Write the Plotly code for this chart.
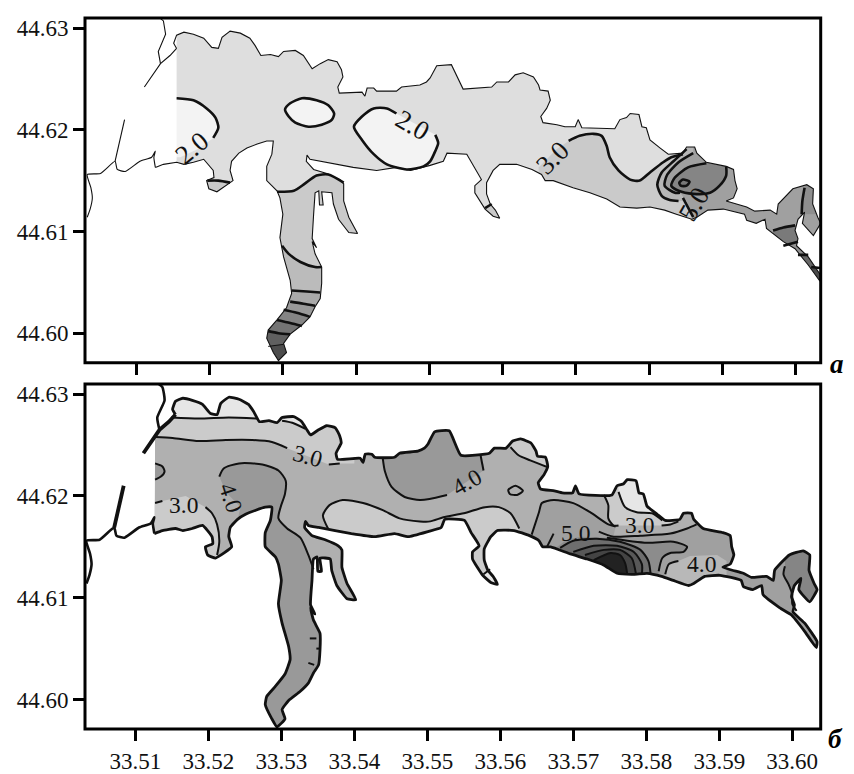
import plotly.graph_objects as go

# ---------- shoreline of the bay (lon, lat), shared by both panels ----------
WATER = [(33.5155,44.6280),(33.5151,44.6285),(33.5155,44.6293),(33.5165,44.6296),(33.5178,44.6294),(33.5192,44.6290),
(33.5203,44.6281),(33.5212,44.6280),(33.5217,44.6291),(33.5228,44.6297),(33.5242,44.6295),(33.5255,44.6290),(33.5262,44.6283),
(33.5270,44.6273),(33.5283,44.6274),(33.5294,44.6272),(33.5301,44.6277),(33.5317,44.6278),(33.5328,44.6273),(33.5335,44.6265),
(33.5340,44.6260),(33.5351,44.6265),(33.5362,44.6269),(33.5374,44.6267),(33.5380,44.6259),(33.5382,44.6252),(33.5375,44.6242),
(33.5377,44.6236),(33.5408,44.6237),(33.5412,44.6233),(33.5415,44.6241),(33.5424,44.6241),(33.5428,44.6238),(33.5455,44.6238),
(33.5462,44.6242),(33.5487,44.6244),(33.5496,44.6247),(33.5501,44.6251),(33.5510,44.6263),(33.5530,44.6264),(33.5546,44.6240),
(33.5585,44.6242),(33.5592,44.6247),(33.5608,44.6247),(33.5617,44.6254),(33.5628,44.6256),(33.5642,44.6252),(33.5649,44.6244),
(33.5651,44.6239),(33.5662,44.6238),(33.5665,44.6229),(33.5660,44.6221),(33.5652,44.6213),(33.5655,44.6207),(33.5674,44.6205),
(33.5685,44.6203),(33.5699,44.6203),(33.5703,44.6210),(33.5708,44.6202),(33.5753,44.6201),(33.5760,44.6210),(33.5769,44.6212),
(33.5774,44.6216),(33.5786,44.6215),(33.5790,44.6203),(33.5796,44.6202),(33.5801,44.6190),(33.5815,44.6182),(33.5826,44.6176),
(33.5846,44.6177),(33.5851,44.6183),(33.5862,44.6183),(33.5865,44.6177),(33.5878,44.6168),(33.5905,44.6164),(33.5915,44.6161),
(33.5917,44.6150),(33.5920,44.6142),(33.5915,44.6133),(33.5905,44.6130),(33.5933,44.6124),(33.5944,44.6120),(33.5965,44.6121),
(33.5974,44.6117),(33.5976,44.6127),(33.5996,44.6142),(33.6015,44.6146),(33.6024,44.6142),(33.6023,44.6127),(33.6030,44.6114),
(33.6034,44.6108),(33.6024,44.6096),(33.6009,44.6108),(33.6012,44.6119),(33.6003,44.6112),(33.5999,44.6101),(33.6003,44.6093),
(33.6001,44.6086),(33.6017,44.6075),(33.6034,44.6057),(33.6033,44.6051),(33.6017,44.6067),(33.5999,44.6083),(33.5983,44.6090),
(33.5960,44.6103),(33.5958,44.6112),(33.5946,44.6108),(33.5933,44.6111),(33.5930,44.6117),(33.5901,44.6122),(33.5880,44.6121),
(33.5865,44.6114),(33.5858,44.6112),(33.5837,44.6117),(33.5821,44.6121),(33.5801,44.6124),(33.5783,44.6123),(33.5760,44.6124),
(33.5742,44.6132),(33.5719,44.6138),(33.5696,44.6143),(33.5669,44.6150),(33.5658,44.6150),(33.5653,44.6156),(33.5640,44.6161),
(33.5619,44.6166),(33.5596,44.6166),(33.5587,44.6160),(33.5578,44.6148),(33.5578,44.6137),(33.5583,44.6127),(33.5590,44.6121),
(33.5596,44.6113),(33.5587,44.6115),(33.5576,44.6122),(33.5562,44.6138),(33.5562,44.6145),(33.5571,44.6151),(33.5560,44.6164),
(33.5551,44.6176),(33.5524,44.6177),(33.5519,44.6169),(33.5501,44.6165),(33.5474,44.6160),(33.5455,44.6163),(33.5428,44.6160),
(33.5396,44.6163),(33.5351,44.6169),(33.5337,44.6171),(33.5333,44.6175),(33.5332,44.6169),(33.5342,44.6161),(33.5360,44.6157),
(33.5378,44.6151),(33.5383,44.6147),(33.5383,44.6130),(33.5390,44.6114),(33.5402,44.6098),(33.5390,44.6099),(33.5376,44.6112),
(33.5369,44.6127),(33.5367,44.6138),(33.5353,44.6139),(33.5355,44.6126),(33.5350,44.6126),(33.5349,44.6140),(33.5344,44.6138),
(33.5342,44.6117),(33.5340,44.6093),(33.5346,44.6084),(33.5340,44.6090),(33.5344,44.6078),(33.5353,44.6065),(33.5353,44.6049),
(33.5351,44.6034),(33.5344,44.6026),(33.5337,44.6016),(33.5326,44.6008),(33.5310,44.5999),(33.5301,44.5990),(33.5305,44.5981),
(33.5294,44.5973),(33.5287,44.5981),(33.5278,44.5995),(33.5280,44.6003),(33.5292,44.6013),(33.5305,44.6025),(33.5312,44.6039),
(33.5310,44.6052),(33.5301,44.6075),(33.5296,44.6094),(33.5300,44.6117),(33.5296,44.6133),(33.5292,44.6140),(33.5278,44.6150),
(33.5278,44.6164),(33.5285,44.6176),(33.5287,44.6189),(33.5278,44.6189),(33.5265,44.6186),(33.5251,44.6182),(33.5240,44.6177),
(33.5230,44.6169),(33.5228,44.6160),(33.5232,44.6150),(33.5210,44.6139),(33.5199,44.6142),(33.5196,44.6150),(33.5206,44.6153),
(33.5205,44.6160),(33.5192,44.6171),(33.5178,44.6168),(33.5165,44.6166),(33.5155,44.6168),(33.5137,44.6166),(33.5126,44.6163),
(33.5127,44.6258),(33.5133,44.6265),(33.5146,44.6273)]
COAST = WATER[:WATER.index((33.5126,44.6163)) + 1]

WEST_SPUR_1 = [(33.5155,44.6280),(33.5146,44.6273),(33.5133,44.6265),(33.5111,44.6242)]
WEST_SHORE_1 = [(33.5132,44.6310),(33.5137,44.6307),(33.5140,44.6294),(33.5130,44.6277),(33.5133,44.6265)]
WEST_SHORE_2 = [(33.5126,44.6163),(33.5124,44.6173),(33.5126,44.6179),(33.5121,44.6173),(33.5105,44.6169),(33.5085,44.6159),
(33.5074,44.6161),(33.5071,44.6169),(33.5051,44.6157),(33.5033,44.6156),(33.5038,44.6143),(33.5040,44.6133),(33.5037,44.6122),(33.5033,44.6114)]
WEST_SPUR_2 = [(33.5071,44.6169),(33.5084,44.6210)]

# ---------- panel a: isolines ----------
A_B1 = [(33.5155,44.6231),(33.5178,44.6229),(33.5196,44.6221),(33.5208,44.6212),(33.5212,44.6202),(33.5205,44.6192)]
A_B1_END = [(33.5187,44.6182),(33.5160,44.6173),(33.5142,44.6173),(33.5142,44.6231)]
A_B2 = [(33.5303,44.6220),(33.5310,44.6226),(33.5326,44.6231),(33.5346,44.6229),(33.5362,44.6224),(33.5370,44.6216),(33.5367,44.6210),
(33.5353,44.6205),(33.5335,44.6203),(33.5317,44.6207),(33.5308,44.6213),(33.5303,44.6220)]
A_B3 = [(33.5455,44.6216),(33.5442,44.6221),(33.5424,44.6221),(33.5408,44.6213),(33.5397,44.6203),(33.5408,44.6190),(33.5424,44.6176),
(33.5442,44.6166),(33.5469,44.6161),(33.5492,44.6164),(33.5501,44.6169),(33.5508,44.6179),(33.5512,44.6187),(33.5508,44.6195)]
A_S1 = [(33.5292,44.6139),(33.5315,44.6140),(33.5330,44.6147),(33.5346,44.6155),(33.5362,44.6156),(33.5383,44.6148)]
A_S1_END = [(33.5420,44.6148),(33.5420,44.5960),(33.5240,44.5960),(33.5240,44.6139)]
A_S2 = [(33.5299,44.6086),(33.5308,44.6078),(33.5324,44.6070),(33.5344,44.6065),(33.5353,44.6065)]
A_S3 = [(33.5312,44.6042),(33.5333,44.6041),(33.5351,44.6040)]
A_S4 = [(33.5310,44.6031),(33.5328,44.6029),(33.5344,44.6027)]
A_S5 = [(33.5301,44.6023),(33.5319,44.6020),(33.5337,44.6016)]
A_S6 = [(33.5292,44.6013),(33.5310,44.6010),(33.5326,44.6007)]
A_S7 = [(33.5280,44.6002),(33.5294,44.6000),(33.5310,44.5999)]
A_S8 = [(33.5280,44.5987),(33.5301,44.5989)]
A_W = [(33.5197,44.6150),(33.5212,44.6150),(33.5228,44.6148)]
A_W_END = [(33.5240,44.6148),(33.5240,44.6130),(33.5190,44.6130),(33.5190,44.6150)]
A_C = [(33.5576,44.6123),(33.5585,44.6127)]
A_C_END = [(33.5600,44.6127),(33.5600,44.6105),(33.5576,44.6105)]
A_E1 = [(33.5690,44.6189),(33.5705,44.6194),(33.5724,44.6196),(33.5735,44.6194),(33.5742,44.6184),(33.5746,44.6173),(33.5758,44.6160),
(33.5774,44.6151),(33.5787,44.6150),(33.5801,44.6158),(33.5819,44.6168),(33.5830,44.6173),(33.5846,44.6176)]
A_E1_START = [(33.5649,44.6163),(33.5674,44.6181)]
A_E1_END = [(33.5860,44.6190),(33.6040,44.6190),(33.6040,44.6040),(33.5649,44.6040)]
A_E2 = [(33.5851,44.6181),(33.5833,44.6169),(33.5817,44.6158),(33.5811,44.6146),(33.5817,44.6135),(33.5828,44.6131),(33.5840,44.6130)]
A_E3 = [(33.5860,44.6177),(33.5840,44.6168),(33.5824,44.6155),(33.5821,44.6145),(33.5835,44.6138),(33.5842,44.6138)]
A_E_END = [(33.5851,44.6130),(33.5860,44.6114),(33.5860,44.6030),(33.6040,44.6030),(33.6040,44.6200),(33.5860,44.6200)]
A_E4 = [(33.5878,44.6167),(33.5853,44.6163),(33.5835,44.6153),(33.5830,44.6145),(33.5840,44.6140),(33.5860,44.6137),(33.5883,44.6138),
(33.5896,44.6145),(33.5905,44.6155),(33.5905,44.6164)]
A_E4_END = [(33.5905,44.6180),(33.5878,44.6180)]
A_E5 = [(33.5841,44.6148),(33.5846,44.6151),(33.5855,44.6149),(33.5851,44.6145),(33.5843,44.6145),(33.5841,44.6148)]
A_D = [(33.5846,44.6133),(33.5860,44.6114)]
A_F1 = [(33.6012,44.6143),(33.6009,44.6130),(33.6008,44.6117)]
A_F1_END = [(33.6040,44.6117),(33.6040,44.6150),(33.6012,44.6150)]
A_F2 = [(33.5969,44.6101),(33.5983,44.6104),(33.5999,44.6106)]
A_F2_END = [(33.6005,44.6106),(33.6005,44.6090),(33.6040,44.6090),(33.6040,44.6030),(33.5969,44.6030)]
A_F3 = [(33.5983,44.6086),(33.6003,44.6090)]
A_F3_END = [(33.6040,44.6090),(33.6040,44.6030),(33.5983,44.6030)]
A_F4 = [(33.6003,44.6077),(33.6017,44.6077)]
A_F4_END = [(33.6040,44.6077),(33.6040,44.6030),(33.6003,44.6030)]
A_F5 = [(33.6021,44.6065),(33.6033,44.6064)]
A_F5_END = [(33.6040,44.6064),(33.6040,44.6030),(33.6021,44.6030)]

# ---------- panel b: isolines ----------
B_T1 = [(33.5149,44.6277),(33.5187,44.6276),(33.5228,44.6277),(33.5267,44.6276)]
B_T1_END = [(33.5267,44.6320),(33.5149,44.6320)]
B_T1B = [(33.5301,44.6274),(33.5315,44.6272),(33.5333,44.6266)]
B_T1B_END = [(33.5333,44.6290),(33.5301,44.6290)]
B_T2 = [(33.5127,44.6258),(33.5151,44.6257),(33.5187,44.6254),(33.5224,44.6255),(33.5260,44.6255),(33.5287,44.6253),(33.5308,44.6247)]
B_T2B = [(33.5365,44.6231),(33.5380,44.6232)]
B_T2_END = [(33.5400,44.6232),(33.5400,44.6320),(33.5127,44.6320)]
B_M1A = [(33.5127,44.6193),(33.5137,44.6195)]
B_M1B = [(33.5196,44.6189),(33.5205,44.6183),(33.5212,44.6172),(33.5215,44.6155),(33.5212,44.6142)]
B_M1_MID = [(33.5169,44.6200)]
B_M1_END = [(33.5212,44.6130),(33.5120,44.6130),(33.5120,44.6193)]
B_M2 = [(33.5127,44.6232),(33.5137,44.6229),(33.5140,44.6224),(33.5135,44.6219),(33.5127,44.6216)]
B_D1 = [(33.5215,44.6219),(33.5221,44.6227),(33.5242,44.6232),(33.5274,44.6231),(33.5296,44.6225),(33.5306,44.6215),(33.5305,44.6202),
(33.5299,44.6189),(33.5296,44.6178),(33.5308,44.6168),(33.5326,44.6159),(33.5337,44.6142),(33.5344,44.6128)]
B_D1_END = [(33.5342,44.6097),(33.5369,44.6087),(33.5369,44.5963),(33.5269,44.5963),(33.5269,44.6172),(33.5240,44.6176),(33.5244,44.6189),(33.5224,44.6204)]
B_D2A = [(33.5439,44.6237),(33.5442,44.6224),(33.5451,44.6209),(33.5469,44.6199),(33.5490,44.6196),(33.5503,44.6197),(33.5527,44.6201)]
B_D2B = [(33.5577,44.6225),(33.5573,44.6240)]
B_D2_END = [(33.5573,44.6270),(33.5439,44.6270)]
B_OVAL = [(33.5611,44.6206),(33.5621,44.6210),(33.5631,44.6205),(33.5623,44.6201),(33.5613,44.6202),(33.5611,44.6206)]
B_LOBE = [(33.5614,44.6248),(33.5625,44.6240),(33.5641,44.6235),(33.5666,44.6228)]
B_LOBE_END = [(33.5680,44.6228),(33.5680,44.6290),(33.5614,44.6290)]
B_M4 = [(33.5364,44.6168),(33.5357,44.6181),(33.5366,44.6191),(33.5384,44.6196),(33.5412,44.6193),(33.5439,44.6186),(33.5462,44.6178),
(33.5490,44.6175),(33.5504,44.6175),(33.5522,44.6179),(33.5550,44.6183),(33.5579,44.6189),(33.5598,44.6189),(33.5614,44.6183),(33.5626,44.6168)]
B_M4_END = [(33.5626,44.6100),(33.5420,44.6100),(33.5420,44.6150),(33.5364,44.6162)]
B_TIP = [(33.5577,44.6123),(33.5586,44.6128)]
B_TIP_END = [(33.5600,44.6128),(33.5600,44.6105),(33.5577,44.6105)]
B_R1 = [(33.5643,44.6162),(33.5653,44.6184),(33.5657,44.6193),(33.5673,44.6196),(33.5700,44.6193),(33.5723,44.6184),(33.5748,44.6172),(33.5758,44.6170)]
B_Z3 = [(33.5735,44.6165),(33.5755,44.6160),(33.5792,44.6161),(33.5833,44.6163),(33.5856,44.6168),(33.5869,44.6172)]
B_R1_END = [(33.5888,44.6175),(33.6045,44.6175),(33.6045,44.6030),(33.5643,44.6030)]
B_Z1 = [(33.5742,44.6201),(33.5748,44.6191),(33.5748,44.6178),(33.5755,44.6171),(33.5762,44.6171)]
B_Z1B = [(33.5821,44.6171),(33.5833,44.6172),(33.5844,44.6175)]
B_Z1_END = [(33.5850,44.6180),(33.5800,44.6215),(33.5742,44.6215)]
B_Z2 = [(33.5762,44.6204),(33.5771,44.6189),(33.5787,44.6184),(33.5808,44.6183),(33.5822,44.6176)]
B_Z2_END = [(33.5822,44.6215),(33.5762,44.6215)]
B_C1_EDGE = [(33.5678,44.6150),(33.5691,44.6157),(33.5710,44.6160)]
B_C1 = [(33.5746,44.6159),(33.5801,44.6154),(33.5837,44.6155),(33.5856,44.6150),(33.5851,44.6145),(33.5833,44.6144),(33.5822,44.6139),(33.5817,44.6126)]
B_C1_END = [(33.5817,44.6100),(33.5678,44.6100)]
B_C2 = [(33.5682,44.6149),(33.5700,44.6156),(33.5732,44.6158),(33.5764,44.6155),(33.5792,44.6147),(33.5803,44.6136),(33.5806,44.6123)]
B_C2_END = [(33.5806,44.6100),(33.5682,44.6100)]
B_C3 = [(33.5700,44.6145),(33.5728,44.6151),(33.5760,44.6151),(33.5783,44.6145),(33.5794,44.6133),(33.5794,44.6123)]
B_C3_END = [(33.5794,44.6100),(33.5700,44.6100)]
B_C4 = [(33.5716,44.6142),(33.5742,44.6147),(33.5764,44.6147),(33.5780,44.6139),(33.5786,44.6123)]
B_C4_END = [(33.5786,44.6100),(33.5716,44.6100)]
B_C5 = [(33.5728,44.6137),(33.5751,44.6144),(33.5764,44.6142),(33.5771,44.6134),(33.5774,44.6123)]
B_C5_END = [(33.5774,44.6100),(33.5728,44.6100)]
B_L5 = [(33.5664,44.6150),(33.5673,44.6163)]
B_Z4 = [(33.5826,44.6123),(33.5831,44.6133),(33.5844,44.6136)]
B_Z4_END = [(33.5860,44.6141),(33.5897,44.6142),(33.5910,44.6136),(33.5910,44.6100),(33.5826,44.6100)]
B_F1 = [(33.5990,44.6131),(33.5988,44.6123),(33.5995,44.6113),(33.6000,44.6103),(33.6000,44.6094),(33.6006,44.6087)]
B_F1_END = [(33.6045,44.6087),(33.6045,44.6160),(33.5990,44.6160)]
B_MARK1 = [(33.5339,44.6060),(33.5348,44.6060)]
B_MARK2 = [(33.5337,44.6036),(33.5345,44.6034)]
B_MARK3 = [(33.5348,44.6050),(33.5353,44.6050)]

# ---------- labels and ticks ----------
LABELS_A = [("2.0",33.5176,44.6182,-40),("2.0",33.5477,44.6205,30),("3.0",33.5668,44.6172,-45),("5.0",33.5861,44.6127,-60)]
LABELS_B = [("3.0",33.5336,44.6239,15),("3.0",33.5166,44.6191,0),("4.0",33.5231,44.6198,72),("4.0",33.5554,44.6214,-30),
            ("5.0",33.5703,44.6164,0),("3.0",33.5791,44.6171,0),("4.0",33.5876,44.6133,0)]
X_TICKS = [33.51,33.52,33.53,33.54,33.55,33.56,33.57,33.58,33.59,33.60]
Y_TICKS = [44.60,44.61,44.62,44.63]
X_RANGE_A = [33.5030,33.6034]
X_RANGE_B = [33.5031,33.6039]
Y_RANGE = [44.5971,44.6310]

FONT = "Liberation Serif, Times New Roman, serif"
fig = go.Figure()

def fill(pts, color, xa, ya):
    fig.add_trace(go.Scatter(x=[p[0] for p in pts], y=[p[1] for p in pts], mode="lines", line=dict(width=0, color=color),
                             fill="toself", fillcolor=color, hoverinfo="skip", showlegend=False, xaxis=xa, yaxis=ya))

def line(pts, width, xa, ya, smooth=0.7):
    fig.add_trace(go.Scatter(x=[p[0] for p in pts], y=[p[1] for p in pts], mode="lines",
                             line=dict(width=width, color="#111111", shape="spline" if smooth else "linear", smoothing=smooth or 1),
                             hoverinfo="skip", showlegend=False, xaxis=xa, yaxis=ya))

def land_mask(xr, xa, ya):
    x0, x1 = xr[0]-0.001, xr[1]+0.001
    y0, y1 = Y_RANGE[0]-0.001, Y_RANGE[1]+0.001
    pts = WATER + [WATER[0], (x0,y1), (x0,y0), (x1,y0), (x1,y1), (x0,y1), WATER[0]]
    fill(pts, "#ffffff", xa, ya)

# panel a
xa, ya = "x", "y"
for pts, c in [
    (WATER, "#dedede"),
    (A_B1 + A_B1_END, "#f3f3f3"), (A_B2, "#f3f3f3"), (A_B3, "#f3f3f3"),
    (A_E1_START + A_E1 + A_E1_END, "#cacaca"),
    (A_S1 + A_S1_END, "#cacaca"), (A_W + A_W_END, "#cacaca"), (A_C + A_C_END, "#cacaca"),
    (A_S2 + [(33.5400,44.6065),(33.5400,44.5960),(33.5240,44.5960),(33.5240,44.6086)], "#bbbbbb"),
    (A_S3 + [(33.5400,44.6040),(33.5400,44.5960),(33.5240,44.5960),(33.5240,44.6042)], "#a9a9a9"),
    (A_S4 + [(33.5400,44.6027),(33.5400,44.5960),(33.5240,44.5960),(33.5240,44.6031)], "#999999"),
    (A_S5 + [(33.5400,44.6016),(33.5400,44.5960),(33.5240,44.5960),(33.5240,44.6023)], "#858585"),
    (A_S6 + [(33.5400,44.6007),(33.5400,44.5960),(33.5240,44.5960),(33.5240,44.6013)], "#747474"),
    (A_S7 + [(33.5400,44.5999),(33.5400,44.5960),(33.5240,44.5960),(33.5240,44.6002)], "#606060"),
    (A_S8 + [(33.5400,44.5989),(33.5400,44.5960),(33.5240,44.5960),(33.5240,44.5987)], "#4c4c4c"),
    (A_E2 + A_E_END, "#b6b6b6"), (A_E3 + A_E_END, "#a0a0a0"),
    (A_E4 + A_E4_END, "#858585"), (A_E5, "#787878"),
    (A_F1 + A_F1_END, "#8e8e8e"), (A_F2 + A_F2_END, "#7a7a7a"), (A_F3 + A_F3_END, "#929292"),
    (A_F4 + A_F4_END, "#686868"), (A_F5 + A_F5_END, "#4a4a4a"),
]:
    fill(pts, c, xa, ya)
land_mask(X_RANGE_A, xa, ya)
fill([(33.5000,44.6330),(33.5155,44.6330),(33.5155,44.5990),(33.5000,44.5990)], "#ffffff", xa, ya)
for pts in [A_B1, A_B2, A_B3, A_S1, A_S2, A_S3, A_S4, A_S5, A_S6, A_S7, A_W, A_C, A_E1, A_E2, A_E3, A_E4, A_E5, A_D, A_F1, A_F2, A_F3, A_F4, A_F5]:
    line(pts, 2.6, xa, ya)
line(A_S8, 1.0, xa, ya)
for pts in [COAST, WEST_SPUR_1, WEST_SHORE_1, WEST_SPUR_2]:
    line(pts, 1.1, xa, ya, smooth=0)
line(WEST_SHORE_2, 1.1, xa, ya, smooth=0.5)

# panel b
xa, ya = "x2", "y2"
for pts, c in [
    (WATER, "#b0b0b0"),
    (B_T2 + B_T2B + B_T2_END, "#cbcbcb"), (B_T1 + B_T1_END, "#e6e6e6"), (B_T1B + B_T1B_END, "#e6e6e6"),
    (B_M1A + B_M1_MID + B_M1B + B_M1_END, "#cbcbcb"), (B_M2, "#999999"),
    (B_D1 + B_D1_END, "#999999"), (B_D2A + B_D2B + B_D2_END, "#999999"),
    (B_LOBE + B_LOBE_END, "#cbcbcb"), (B_M4 + B_M4_END, "#cbcbcb"), (B_TIP + B_TIP_END, "#e6e6e6"),
    (B_R1 + B_Z3[1:] + B_R1_END, "#a0a0a0"), (B_Z1 + B_Z1B + B_Z1_END, "#cbcbcb"), (B_Z2 + B_Z2_END, "#e6e6e6"),
    (B_Z4 + B_Z4_END, "#b8b8b8"),
    (B_C1_EDGE + B_C1 + B_C1_END, "#8c8c8c"), (B_C2 + B_C2_END, "#6e6e6e"), (B_C3 + B_C3_END, "#585858"),
    (B_C4 + B_C4_END, "#444444"), (B_C5 + B_C5_END, "#222222"), (B_F1 + B_F1_END, "#858585"),
]:
    fill(pts, c, xa, ya)
land_mask(X_RANGE_B, xa, ya)
for pts in [B_T1, B_T1B, B_T2, B_T2B, B_M1A, B_M1B, B_M2, B_D1, B_D2A, B_D2B, B_OVAL, B_LOBE, B_M4, B_TIP, B_R1, B_Z3, B_Z1, B_Z1B,
            B_Z2, B_C1, B_C2, B_C3, B_C4, B_C5, B_L5, B_Z4, B_F1, B_MARK1, B_MARK2, B_MARK3]:
    line(pts, 2.0, xa, ya)
line(COAST, 2.8, xa, ya, smooth=0.4)
for pts in [WEST_SHORE_1, WEST_SHORE_2]:
    line(pts, 2.6, xa, ya, smooth=0.5)
for pts in [WEST_SPUR_1, WEST_SPUR_2]:
    line(pts, 3.8, xa, ya, smooth=0)

annotations = []
for labels, xr, yr, size in [(LABELS_A, "x", "y", 27), (LABELS_B, "x2", "y2", 23.5)]:
    for text, lon, lat, angle in labels:
        annotations.append(dict(text=text, x=lon, y=lat, xref=xr, yref=yr, showarrow=False, textangle=angle,
                                font=dict(family=FONT, size=size, color="#111111")))
annotations.append(dict(text="<b><i>а</i></b>", x=846/854, y=1-364/774, xref="paper", yref="paper", showarrow=False,
                        font=dict(family=FONT, size=27, color="#000000")))
annotations.append(dict(text="<b><i>б</i></b>", x=845/854, y=1-759/774, xref="paper", yref="paper", showarrow=False,
                        font=dict(family=FONT, size=27, color="#000000")))

axis = dict(showline=False, ticks="outside", ticklen=11, tickwidth=3, tickcolor="#000000",
            showgrid=False, zeroline=False, tickfont=dict(family=FONT, size=23, color="#111111"), tickformat=".2f")
dom_x = [85/854, 820.7/854]
dom_a = [1-363/774, 1-16/774]
dom_b = [1-731.7/774, 1-384.5/774]
frames = [dict(type="rect", xref="paper", yref="paper", x0=dom_x[0], x1=dom_x[1], y0=d[0], y1=d[1],
               line=dict(color="#000000", width=3), fillcolor="rgba(0,0,0,0)", layer="above") for d in (dom_a, dom_b)]
fig.update_layout(
    width=854, height=774, autosize=False, margin=dict(l=0, r=0, t=0, b=0),
    paper_bgcolor="#ffffff", plot_bgcolor="#ffffff", showlegend=False, annotations=annotations, shapes=frames,
    xaxis=dict(axis, domain=dom_x, range=X_RANGE_A, tickvals=X_TICKS, showticklabels=False, anchor="y"),
    yaxis=dict(axis, domain=dom_a, range=Y_RANGE, tickvals=Y_TICKS, anchor="x"),
    xaxis2=dict(axis, domain=dom_x, range=X_RANGE_B, tickvals=X_TICKS, anchor="y2"),
    yaxis2=dict(axis, domain=dom_b, range=Y_RANGE, tickvals=Y_TICKS, anchor="x2"),
)
fig.write_html("out.html", config={"displayModeBar": False},
               post_script="document.documentElement.style.margin='0';document.body.style.margin='0';document.body.style.overflow='hidden';")
